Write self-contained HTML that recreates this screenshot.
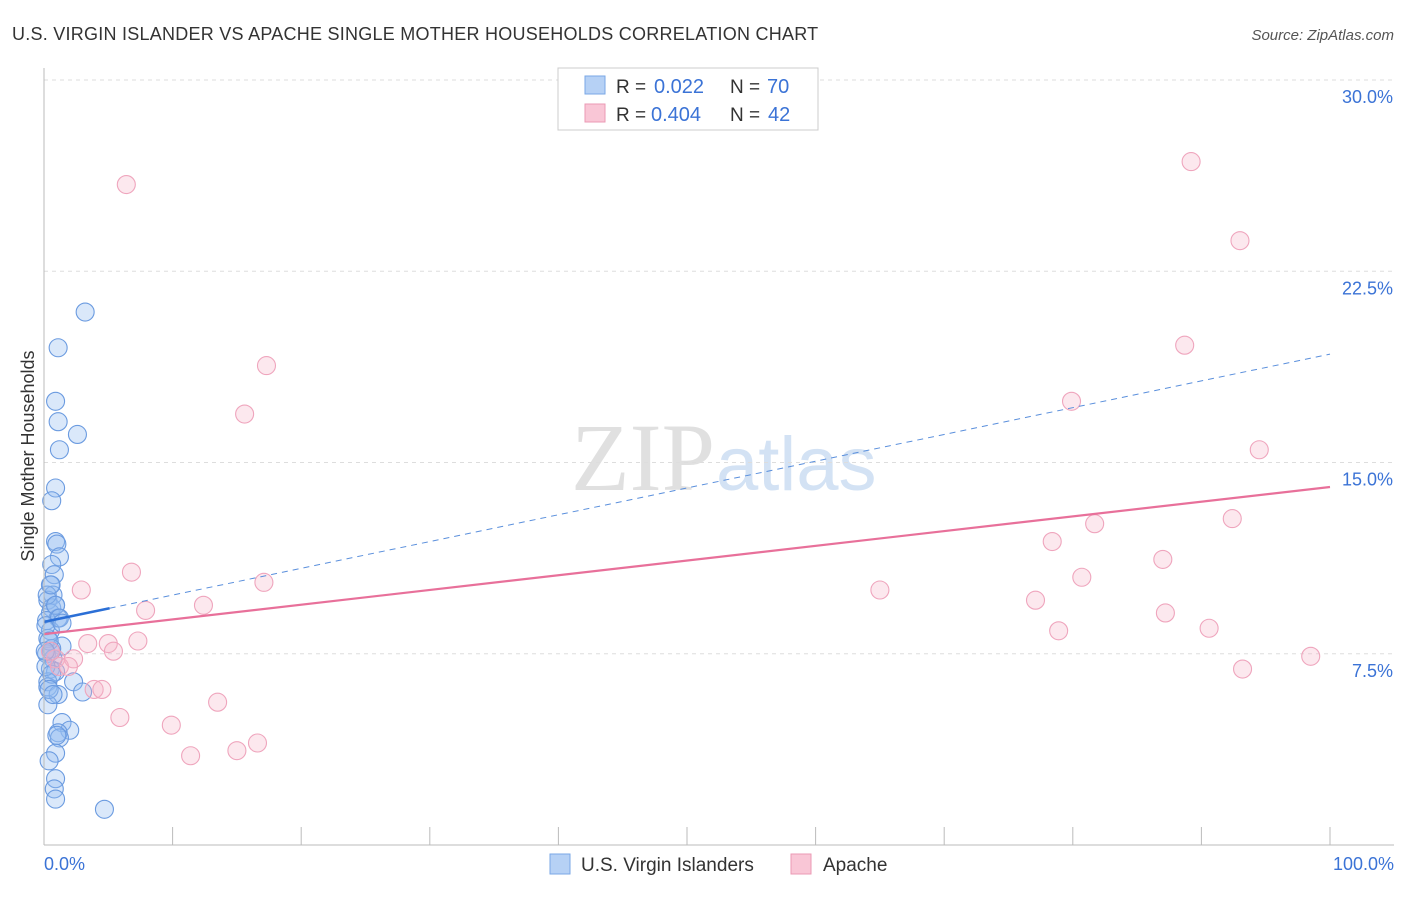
<!DOCTYPE html>
<html><head><meta charset="utf-8"><style>
body{margin:0;background:#fff;font-family:"Liberation Sans",sans-serif;}
</style></head><body>
<svg id="c" width="1406" height="892" xmlns="http://www.w3.org/2000/svg">
<text x="12" y="40" font-size="18" fill="#333" letter-spacing="0.25">U.S. VIRGIN ISLANDER VS APACHE SINGLE MOTHER HOUSEHOLDS CORRELATION CHART</text>
<text x="1394" y="40" font-size="15" fill="#555" font-style="italic" text-anchor="end">Source: ZipAtlas.com</text>
<text x="715" y="490" font-size="96" fill="#e0e0e0" text-anchor="end" font-family="Liberation Serif">ZIP</text>
<text x="716" y="490" font-size="76" fill="#d3e2f4">atlas</text>
<text transform="translate(34,456) rotate(-90)" font-size="18" fill="#333" text-anchor="middle">Single Mother Households</text>
<g id="grid"></g><g id="pts"></g><g id="lines"></g>
<line x1="44" y1="68" x2="44" y2="845" stroke="#bbb"/>
<line x1="44" y1="845" x2="1394" y2="845" stroke="#bbb"/>
<text x="44" y="870" font-size="18" fill="#3b73d6">0.0%</text>
<text x="1394" y="870" font-size="18" fill="#3b73d6" text-anchor="end">100.0%</text>
<g>
<rect x="558" y="68" width="260" height="62" fill="#fff" stroke="#ccc"/>
<rect x="585" y="76" width="20" height="18" fill="#b6d1f5" stroke="#7aa7e6"/>
<rect x="585" y="104" width="20" height="18" fill="#f9c6d6" stroke="#eb9ab4"/>
<text x="616" y="93" font-size="19" fill="#333">R = </text><text x="654" y="93" font-size="20" fill="#3b73d6">0.022</text>
<text x="730" y="93" font-size="19" fill="#333">N = </text><text x="767" y="93" font-size="20" fill="#3b73d6">70</text>
<text x="616" y="121" font-size="19" fill="#333">R = </text><text x="651" y="121" font-size="20" fill="#3b73d6">0.404</text>
<text x="730" y="121" font-size="19" fill="#333">N = </text><text x="768" y="121" font-size="20" fill="#3b73d6">42</text>
</g>
<g>
<rect x="550" y="854" width="20" height="20" fill="#b6d1f5" stroke="#7aa7e6"/>
<text x="581" y="871" font-size="19" fill="#333">U.S. Virgin Islanders</text>
<rect x="791" y="854" width="20" height="20" fill="#f9c6d6" stroke="#eb9ab4"/>
<text x="823" y="871" font-size="19" fill="#333">Apache</text>
</g>
</svg>
<script>
const yTicks=[7.5,15,22.5,30];
const yTickLabels=["7.5%","15.0%","22.5%","30.0%"];
const blueX=[3.2,1.1,0.9,1.1,2.6,1.2,0.9,0.6,0.9,1.0,1.2,0.6,0.8,0.5,0.7,0.3,0.6,0.5,1.1,0.2,0.5,0.3,1.4,0.6,0.2,0.7,0.5,0.9,0.3,2.3,0.3,3.0,1.1,1.4,2.0,1.1,1.2,0.3,0.9,0.9,0.8,0.9,4.7,0.15,0.4,0.55,0.15,0.6,0.9,0.25,0.55,0.9,1.2,1.4,0.1,0.4,0.7,1.0,0.4];
const blueY=[20.9,19.5,17.4,16.6,16.1,15.5,14.0,13.5,11.9,11.8,11.3,11.0,10.6,10.2,9.8,9.6,9.3,9.1,8.9,8.8,8.4,8.1,7.8,7.7,7.5,7.3,6.9,6.8,6.4,6.4,6.2,6.0,5.9,4.8,4.5,4.4,4.2,5.5,3.6,2.6,2.2,1.8,1.4,8.6,8.0,7.6,7.0,6.7,9.4,9.8,10.2,9.4,8.9,8.7,7.6,6.1,5.9,4.3,3.3];
const pinkX=[6.4,17.3,15.6,6.8,2.9,17.1,7.9,12.4,3.4,5.0,7.3,5.4,2.3,0.9,1.2,1.9,3.9,4.5,5.9,9.9,13.5,11.4,15.0,16.6,0.5,89.2,93.0,88.7,79.9,94.5,92.4,81.7,78.4,87.0,80.7,65.0,77.1,87.2,78.9,90.6,93.2,98.5];
const pinkY=[25.9,18.8,16.9,10.7,10.0,10.3,9.2,9.4,7.9,7.9,8.0,7.6,7.3,7.3,7.0,7.0,6.1,6.1,5.0,4.7,5.6,3.5,3.7,4.0,7.6,26.8,23.7,19.6,17.4,15.5,12.8,12.6,11.9,11.2,10.5,10.0,9.6,9.1,8.4,8.5,6.9,7.4];
const blueTrend=[8.75,19.25];
const pinkTrend=[8.27,14.04];
const X=v=>44+v*12.86, Y=v=>845-v*25.5;
const NS="http://www.w3.org/2000/svg";
function mk(tag,attrs,parent){const e=document.createElementNS(NS,tag);for(const k in attrs)e.setAttribute(k,attrs[k]);parent.appendChild(e);return e;}
const grid=document.getElementById('grid');
yTicks.forEach((t,i)=>{
 const l=mk('line',{x1:44,x2:1394,y1:Y(t),y2:Y(t),stroke:'#ddd','stroke-dasharray':'4,4'},grid);
 
 
 const tx=mk('text',{x:1393,y:Y(t)+23,'font-size':18,fill:'#3b73d6','text-anchor':'end'},grid);
 tx.textContent=yTickLabels[i];
 
 
});
for(let i=1;i<=10;i++){const l=mk('line',{x1:44+i*128.6,x2:44+i*128.6,y1:827,y2:845,stroke:'#bbb'},grid);
 
 }
const pts=document.getElementById('pts');
blueX.forEach((x,i)=>{const c=mk('circle',{cx:X(x),cy:Y(blueY[i]),r:9,fill:'rgba(150,188,240,0.35)',stroke:'#6b9be0','stroke-width':1.1},pts);
 
 });
pinkX.forEach((x,i)=>{const c=mk('circle',{cx:X(x),cy:Y(pinkY[i]),r:9,fill:'rgba(246,180,200,0.3)',stroke:'#efa5bd','stroke-width':1.1},pts);
 
 });
const lines=document.getElementById('lines');
const by=x=>blueTrend[0]+(blueTrend[1]-blueTrend[0])*x/100;
let l=mk('line',{x1:X(0),y1:Y(by(0)),x2:X(5.1),y2:Y(by(5.1)),stroke:'#2b6fd6','stroke-width':2.5},lines);


l=mk('line',{x1:X(5.1),y1:Y(by(5.1)),x2:X(100),y2:Y(by(100)),stroke:'#5a8fdc','stroke-width':1,'stroke-dasharray':'6,5'},lines);


l=mk('line',{x1:X(0),y1:Y(pinkTrend[0]),x2:X(100),y2:Y(pinkTrend[1]),stroke:'#e8709a','stroke-width':2.2},lines);


</script>
</body></html>
